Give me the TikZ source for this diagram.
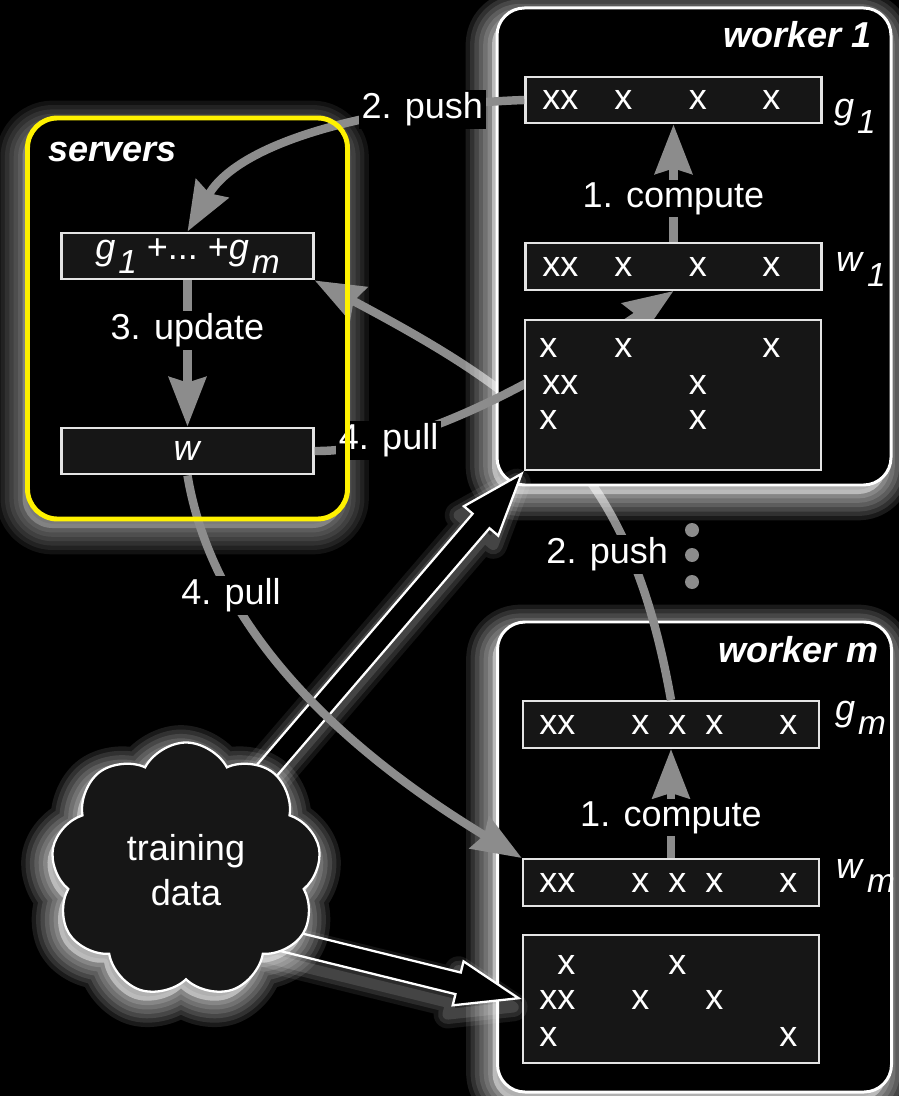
\documentclass[tikz,border=0pt]{standalone}
\usepackage{fontspec}
\setmainfont{Liberation Sans}
\usepackage{tikz}
\usetikzlibrary{arrows.meta, positioning, calc, shapes.symbols, shapes.arrows}
\usepackage{xcolor}

\definecolor{edgegray}{HTML}{8C8C8C}
\definecolor{boxfill}{HTML}{161616}
\definecolor{boxline}{HTML}{E4E4E4}

% variable with a lowered index, e.g. g_1
\newcommand{\vsub}[2]{\textit{#1}\kern.08em\raisebox{-.4em}{\fontsize{19}{19}\selectfont\textit{#2}}}

\tikzset{
    glowshift/.style={transform canvas={shift={(-0.1,-0.18)}}},
    ring/.style={fill=none, draw=#1, line join=round, glowshift},
    glow/.style={preaction={draw=none, fill=#1, fill opacity=.45, glowshift},
                 preaction={ring=#1, draw opacity=.1, line width=30pt},
                 preaction={ring=#1, draw opacity=.1, line width=25pt},
                 preaction={ring=#1, draw opacity=.11, line width=20pt},
                 preaction={ring=#1, draw opacity=.12, line width=15pt},
                 preaction={ring=#1, draw opacity=.13, line width=10pt},
                 preaction={ring=#1, draw opacity=.15, line width=5pt}},
    haze/.style={preaction={ring=white, draw opacity=.08, line width=16pt},
                 preaction={ring=white, draw opacity=.1, line width=11pt},
                 preaction={ring=white, draw opacity=.12, line width=6pt}},
    worker/.style={draw=white, line width=1.7pt, fill=black, rounded corners=0.55cm,
                   minimum width=7.88cm, glow=white},
    vec/.style={draw=boxline, line width=1.4pt, fill=boxfill, inner sep=1pt,
                minimum width=5.92cm, minimum height=0.93cm},
    xmark/.style={anchor=west, inner sep=0pt},
    title/.style={font=\fontsize{20.5}{24}\selectfont\bfseries\itshape},
    flow/.style={draw=edgegray, line width=4.8pt, -{Stealth[length=28pt, width=21pt, inset=3pt]}},
    lbl/.style={fill=black, inner sep=1.5pt},
    bigarrow/.style={single arrow, draw=white, fill=black, line width=1.3pt, inner sep=0.2cm,
                     single arrow head extend=0.23cm, single arrow tip angle=40,
                     anchor=tip, sloped, allow upside down, haze},
    srvframe/.style={draw=yellow, line width=2.8pt, rounded corners=0.6cm}
}

\begin{document}
\begin{tikzpicture}[every node/.style={font=\fontsize{20.5}{24}\selectfont, text=white}]
    \fill[black] (0,0) rectangle (17.98,-21.92);
    \useasboundingbox (0,0) rectangle (17.98,-21.92);

    % servers
    \node[fill=black, rounded corners=0.6cm, outer sep=0pt, minimum width=6.4cm,
          minimum height=8.02cm, glow=white!70!black] (srv) at (3.75,-6.37) {};
    \node[title, anchor=base west] (srvtitle) at (0.84,-3.24) {servers};
    \node[vec, minimum width=5.04cm] (sum) at (3.75,-5.12) {\vsub{g}{1} +...\ +\vsub{g}{m}};
    \node[vec, minimum width=5.04cm] (w) at (3.75,-9.02) {\textit{w}};
    \path (sum) edge[flow] node[lbl, pos=.34] (upd) {3. update} (w);

    % worker m
    \node[worker, minimum height=9.4cm] (wkm) at (13.89,-17.14) {};
    \node[title, anchor=base east] (wkmtitle) at (17.7,-13.24) {worker m};
    \node[vec] (gm) at (13.42,-14.49) {};
    \node[vec] (wm) at (13.42,-17.65) {};
    \node[vec, minimum height=2.56cm] (datm) at (13.42,-19.98) {};
    \foreach \r/\y in {gm/-14.49, wm/-17.65}
        \foreach \x/\s [count=\i] in {10.78/xx, 12.62/x, 13.36/x, 14.1/x, 15.58/x}
            \node[xmark] (\r x\i) at (\x,\y) {\s};
    \foreach \x/\y/\s [count=\i] in {11.14/-19.3/x, 13.36/-19.3/x, 10.78/-20.0/xx,
            12.62/-20.0/x, 14.1/-20.0/x, 10.78/-20.74/x, 15.58/-20.74/x}
        \node[xmark] (dmx\i) at (\x,\y) {\s};
    \node[anchor=base west] (gmlab) at (16.58,-14.4) {\vsub{g}{m}};
    \node[anchor=base west] (wmlab) at (16.6,-17.56) {\vsub{w}{m}};
    \path (wm) edge[flow] node[lbl, pos=.37] (cmpm) {1. compute} (gm);

    % push from worker m runs behind worker 1
    \draw[flow] (gm.north) .. controls (12.6,-9.4) and (10.8,-8.0) ..
        node[lbl, pos=.25, xshift=-.45cm] (pushm) {2. push} (sum.south east);

    % worker 1
    \node[worker, minimum height=9.54cm] (wk1) at (13.88,-4.93) {};
    \node[title, anchor=base east] (wk1title) at (17.55,-0.96) {worker 1};
    \node[vec] (g1) at (13.47,-2.0) {};
    \node[vec] (w1) at (13.47,-5.33) {};
    \draw[flow] (w.east) .. controls (8.4,-9.04) and (11.2,-7.36) ..
        node[lbl, pos=.22] (pull1) {4. pull} (w1.south);
    \node[vec, minimum height=3cm] (dat1) at (13.46,-7.9) {};
    \foreach \r/\y in {g1/-2.0, w1/-5.33}
        \foreach \x/\s [count=\i] in {10.84/xx, 12.28/x, 13.77/x, 15.24/x}
            \node[xmark] (\r x\i) at (\x,\y) {\s};
    \foreach \x/\y/\s [count=\i] in {10.78/-6.96/x, 12.28/-6.96/x, 15.24/-6.96/x,
            10.84/-7.7/xx, 13.77/-7.7/x, 10.78/-8.4/x, 13.77/-8.4/x}
        \node[xmark] (d1x\i) at (\x,\y) {\s};
    \node[anchor=base west] (g1lab) at (16.56,-2.38) {\vsub{g}{1}};
    \node[anchor=base west] (w1lab) at (16.6,-5.44) {\vsub{w}{1}};
    \path (w1) edge[flow] node[lbl, pos=.37] (cmp1) {1. compute} (g1);

    \draw[flow] (g1.west) .. controls (7.6,-2.1) and (4.8,-2.8) ..
        node[lbl, pos=.24] (push1) {2. push} (sum.north);

    % training data feeds the workers
    \coordinate (src1) at (5.0,-15.8);
    \coordinate (src2) at (5.4,-18.74);
    \path let \p1=($(dat1.south west)-(src1)$), \n1={veclen(\x1,\y1)} in
        (src1) -- node[bigarrow, pos=1, minimum height=\n1] (feed1) {} (dat1.south west);
    \path let \p1=($(datm.west)-(src2)$), \n1={veclen(\x1,\y1)} in
        (src2) -- node[bigarrow, pos=1, minimum height=\n1] (feedm) {} (datm.west);
    \node[cloud, cloud puffs=9, cloud puff arc=125, aspect=1.05, draw=white, fill=boxfill,
          line width=1.3pt, minimum width=5.4cm, minimum height=5.1cm, align=center,
          glow=white, font=\fontsize{20.5}{26}\selectfont] (data) at (3.72,-17.4) {training\\data};

    \draw[flow] (w.south) .. controls (4.3,-12.8) and (7.2,-15.2) ..
        node[lbl, pos=.26] (pull2) {4. pull} (wm.north west);

    \foreach \y in {-10.6,-11.1,-11.64}
        \fill[edgegray] (13.84,\y) circle (0.14);

    \draw[srvframe] (srv.south west) rectangle (srv.north east);
\end{tikzpicture}
\end{document}
